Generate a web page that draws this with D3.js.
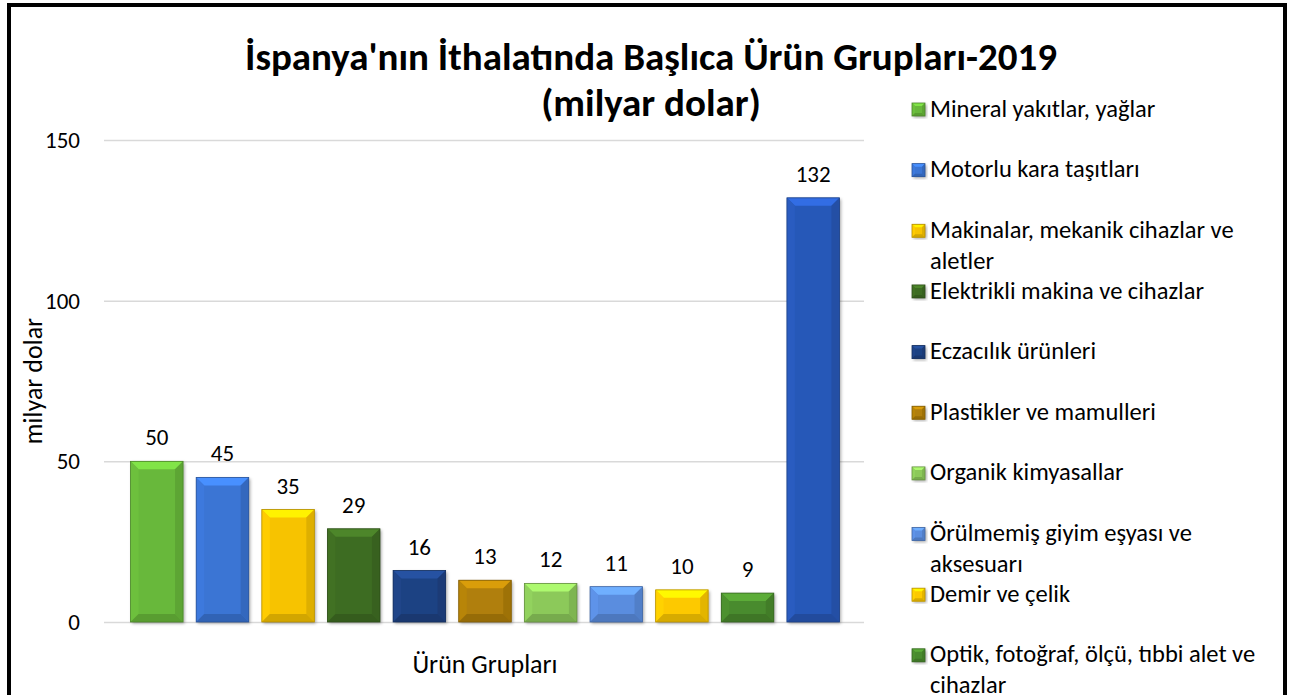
<!DOCTYPE html>
<html>
<head>
<meta charset="utf-8">
<script src="https://cdn.jsdelivr.net/npm/d3@7"></script>
<style>
  html, body { margin: 0; padding: 0; background: #fff; }
  svg { display: block; font-family: Carlito, Calibri, Lato, "Liberation Sans", sans-serif; }
</style>
</head>
<body>
<svg id="chart" width="1306" height="695"></svg>
<script>
// ---- data ----
const categories = [
  "Mineral yakıtlar, yağlar",
  "Motorlu kara taşıtları",
  "Makinalar, mekanik cihazlar ve aletler",
  "Elektrikli makina ve cihazlar",
  "Eczacılık ürünleri",
  "Plastikler ve mamulleri",
  "Organik kimyasallar",
  "Örülmemiş giyim eşyası ve aksesuarı",
  "Demir ve çelik",
  "Optik, fotoğraf, ölçü, tıbbi alet ve cihazlar",
  "Diğer"
];
const values = [50, 45, 35, 29, 16, 13, 12, 11, 10, 9, 132];
const legendLines = [
  ["Mineral yakıtlar, yağlar"],
  ["Motorlu kara taşıtları"],
  ["Makinalar, mekanik cihazlar ve", "aletler"],
  ["Elektrikli makina ve cihazlar"],
  ["Eczacılık ürünleri"],
  ["Plastikler ve mamulleri"],
  ["Organik kimyasallar"],
  ["Örülmemiş giyim eşyası ve", "aksesuarı"],
  ["Demir ve çelik"],
  ["Optik, fotoğraf, ölçü, tıbbi alet ve", "cihazlar"],
  ["Diğer"]
];
const colors = ["#68b83a", "#3a74d4", "#f7c300", "#3e6c22", "#1f4283", "#b07f08",
                "#8cc95a", "#5a8ddf", "#fdc900", "#4a8b2d", "#2858b8"];
const yTicks = [0, 50, 100, 150];
const titleLines = ["İspanya'nın İthalatında Başlıca Ürün Grupları-2019", "(milyar dolar)"];
const xTitle = "Ürün Grupları";
const yTitle = "milyar dolar";

// ---- layout ----
const W = 1306, H = 695;
const svg = d3.select("#chart");
const plot = { left: 104, right: 864, top: 140, bottom: 622 };

const x = d3.scaleBand().domain(d3.range(values.length))
  .range([124, 846]).paddingInner(0.2).paddingOuter(0.1);
const y = d3.scaleLinear().domain([0, 150]).range([plot.bottom, plot.top]);

// drop shadow
const defs = svg.append("defs");
const f = defs.append("filter").attr("id", "sh").attr("x", "-20%").attr("y", "-20%")
  .attr("width", "140%").attr("height", "140%");
f.append("feDropShadow").attr("dx", 1.5).attr("dy", 1.5).attr("stdDeviation", 1.5)
  .attr("flood-color", "#000").attr("flood-opacity", 0.35);

// frame
svg.append("rect").attr("x", 9).attr("y", 5).attr("width", 1276).attr("height", 720)
  .attr("fill", "#fff").attr("stroke", "#000").attr("stroke-width", 4);

// title
svg.append("g").selectAll("text").data(titleLines).join("text")
  .attr("x", 651).attr("y", (d, i) => 56 + i * 46).attr("dy", "0.35em")
  .attr("text-anchor", "middle").attr("font-weight", "bold").attr("font-size", 39)
  .attr("fill", "#000").text(d => d);

// gridlines + y tick labels
const yAxis = d3.axisLeft(y).tickValues(yTicks).tickSize(-(plot.right - plot.left)).tickPadding(24);
const gy = svg.append("g").attr("transform", `translate(${plot.left},0)`).call(yAxis);
gy.select(".domain").remove();
gy.selectAll(".tick line").attr("stroke", "#d9d9d9").attr("stroke-width", 1.5);
gy.selectAll(".tick text").attr("font-size", 23).attr("fill", "#000")
  .attr("font-family", "Carlito, Calibri, Lato, sans-serif");

// bars with bevel
function bevelBar(g, x0, x1, y0, y1, col, b) {
  const c = d3.color(col);
  const h = y1 - y0;
  b = Math.min(b, h / 2, (x1 - x0) / 2);
  g.append("rect").attr("x", x0).attr("y", y0).attr("width", x1 - x0).attr("height", h)
    .attr("fill", col).attr("filter", "url(#sh)");
  const pts = a => a.map(p => p.join(",")).join(" ");
  g.append("polygon").attr("points", pts([[x0, y0], [x1, y0], [x1 - b, y0 + b], [x0 + b, y0 + b]]))
    .attr("fill", c.brighter(0.6).formatHex());
  g.append("polygon").attr("points", pts([[x0, y0], [x0 + b, y0 + b], [x0 + b, y1 - b], [x0, y1]]))
    .attr("fill", c.brighter(0.12).formatHex());
  g.append("polygon").attr("points", pts([[x1, y0], [x1 - b, y0 + b], [x1 - b, y1 - b], [x1, y1]]))
    .attr("fill", c.darker(0.3).formatHex());
  g.append("polygon").attr("points", pts([[x0, y1], [x0 + b, y1 - b], [x1 - b, y1 - b], [x1, y1]]))
    .attr("fill", c.darker(0.45).formatHex());
  g.append("rect").attr("x", x0).attr("y", y0).attr("width", x1 - x0).attr("height", h)
    .attr("fill", "none").attr("stroke", c.darker(0.9).formatHex()).attr("stroke-width", 0.8);
}

const gBars = svg.append("g");
values.forEach((v, i) => {
  const g = gBars.append("g");
  bevelBar(g, x(i), x(i) + x.bandwidth(), y(v), y(0), colors[i], 8);
});

// value labels
svg.append("g").selectAll("text").data(values).join("text")
  .attr("x", (d, i) => x(i) + x.bandwidth() / 2)
  .attr("y", d => y(d) - 24).attr("dy", "0.35em")
  .attr("text-anchor", "middle").attr("font-size", 23).attr("fill", "#000")
  .text(d => d);

// axis titles
svg.append("text").attr("x", 485).attr("y", 664).attr("dy", "0.35em")
  .attr("text-anchor", "middle").attr("font-size", 26).attr("fill", "#000").text(xTitle);
svg.append("text").attr("transform", "translate(33,381) rotate(-90)").attr("dy", "0.35em")
  .attr("text-anchor", "middle").attr("font-size", 26).attr("fill", "#000").text(yTitle);

// legend (entries that fall below the picture's edge are not drawn, as in the reference)
const legStep = 60.65, legTop = 108, lineH = 31;
const gLeg = svg.append("g");
legendLines.forEach((lines, i) => {
  const cy = legTop + i * legStep;
  if (cy > H - 10) return;
  const g = gLeg.append("g");
  bevelBar(g, 912, 925, cy - 5, cy + 8, colors[i], 3);
  g.selectAll("text").data(lines).join("text")
    .attr("x", 930).attr("y", (d, j) => cy + j * lineH).attr("dy", "0.35em")
    .attr("font-size", 24.5).attr("fill", "#000").text(d => d);
});
</script>
</body>
</html>
